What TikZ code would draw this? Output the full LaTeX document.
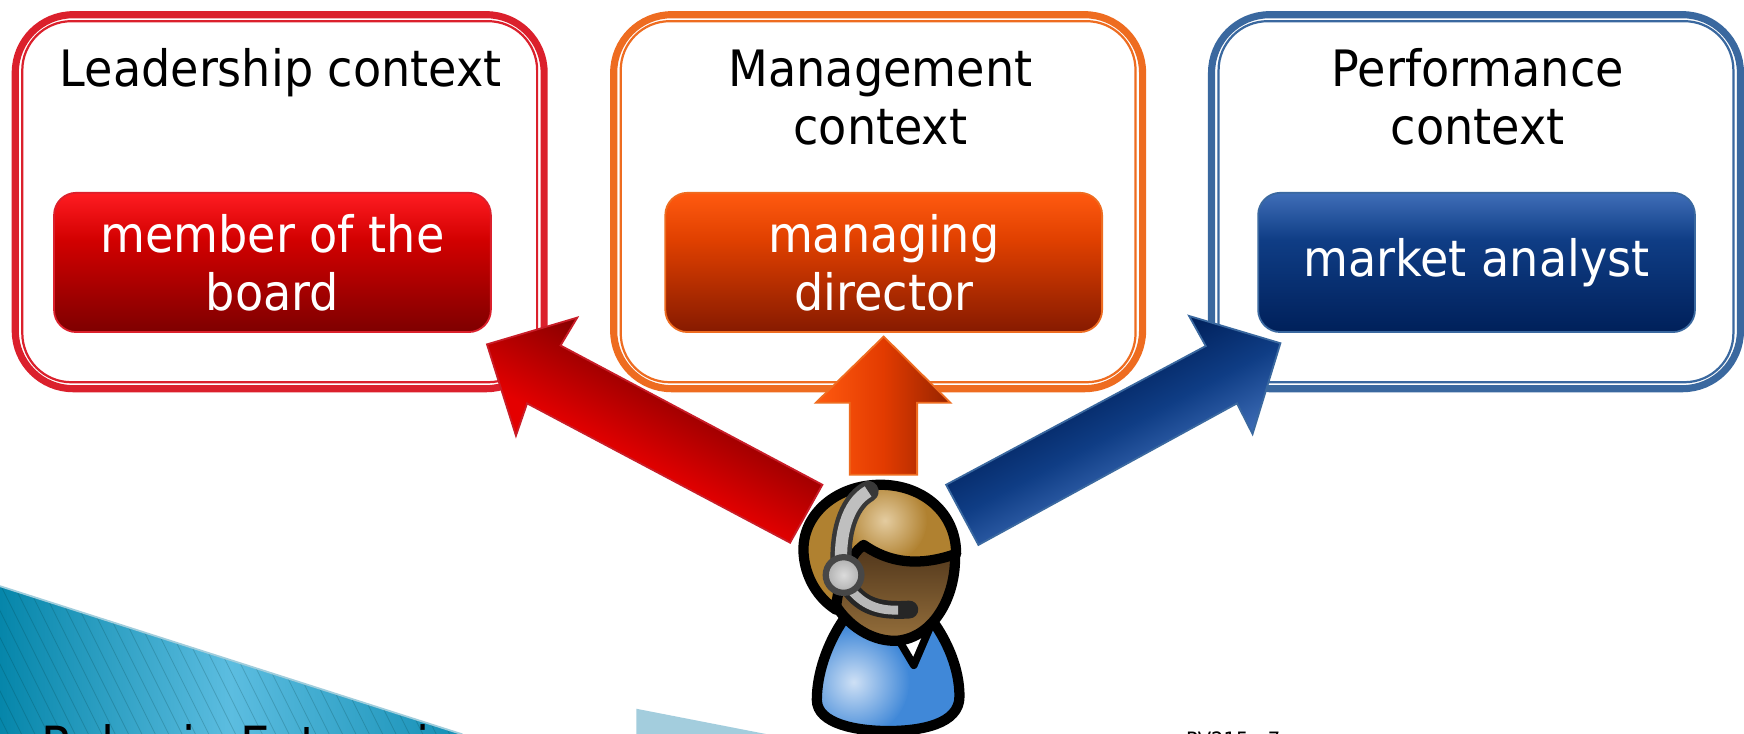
\documentclass[tikz,border=0pt]{standalone}
\usepackage{fontspec}
\setmainfont{DejaVu Sans}[FakeStretch=0.92]
\definecolor{rA}{HTML}{FF1C22}\definecolor{rB}{HTML}{D20000}\definecolor{rC}{HTML}{7E0000}
\definecolor{oA}{HTML}{FF5A10}\definecolor{oB}{HTML}{E04000}\definecolor{oC}{HTML}{861A00}
\definecolor{bA}{HTML}{3F6EB8}\definecolor{bB}{HTML}{0F3D85}\definecolor{bC}{HTML}{00205A}
\definecolor{rE}{HTML}{DB202C}\definecolor{oE}{HTML}{EE6C20}\definecolor{bE}{HTML}{3A689F}
\definecolor{arrR}{HTML}{E40000}\definecolor{arrRd}{HTML}{860000}
\definecolor{arrO}{HTML}{962400}
\definecolor{skinB}{RGB}{64,136,216}\definecolor{skinBl}{RGB}{206,224,245}
\definecolor{hairC}{RGB}{176,129,48}\definecolor{hairL}{RGB}{228,204,160}
\definecolor{triD}{RGB}{6,134,170}\definecolor{triL}{RGB}{92,189,224}\definecolor{triR}{RGB}{20,143,181}
\definecolor{triE}{RGB}{160,205,220}\definecolor{triP}{RGB}{163,205,221}
\definecolor{faceT}{RGB}{78,52,26}\definecolor{faceB}{RGB}{150,112,60}
\pgfdeclareverticalshading{redv}{100bp}{color(0bp)=(rC);color(25bp)=(rC);color(58bp)=(rB);color(75bp)=(rA);color(100bp)=(rA)}
\pgfdeclareverticalshading{orangev}{100bp}{color(0bp)=(oC);color(25bp)=(oC);color(58bp)=(oB);color(75bp)=(oA);color(100bp)=(oA)}
\pgfdeclareverticalshading{bluev}{100bp}{color(0bp)=(bC);color(25bp)=(bC);color(58bp)=(bB);color(75bp)=(bA);color(100bp)=(bA)}
\tikzset{
  frameout/.style={rectangle,rounded corners=26pt,line width=3.2pt,minimum width=237.3pt,minimum height=167.8pt,inner sep=0pt},
  framein/.style={rectangle,rounded corners=22pt,line width=1pt,minimum width=231pt,minimum height=162pt,inner sep=0pt},
  rolebox/.style={rectangle,rounded corners=10pt,line width=.8pt,minimum width=196pt,minimum height=62.5pt,inner sep=0pt,
    text=white,align=center,font=\fontsize{22.5}{26}\selectfont,shade},
  ctitle/.style={align=center,font=\fontsize{22.5}{26}\selectfont,text=black,inner sep=0pt,anchor=base},
  blockarrow/.style={line width=.8pt,line join=miter},
  outl/.style={draw=black,line width=4.6pt,line join=round},
  stripe/.style={draw=black!60!teal,opacity=.2,line width=.35pt}
}
\begin{document}
\begin{tikzpicture}[x=0.5pt,y=-0.5pt]
\path[use as bounding box,clip] (0,0) rectangle (1565,658.6);
\fill[white] (0,0) rectangle (1565,658.6);

% decoration triangles
\begin{scope}
  \clip (0,526) -- (415,659) -- (0,659) -- cycle;
  \shade[left color=triD,right color=triR,middle color=triL] (0,526) rectangle (415,659);
  \foreach \k in {-10,...,36} \draw[stripe] (\k*12,500) -- ++(90,180);
\end{scope}
\draw[line width=.8pt,color=triE] (0,526) -- (415,659);
\fill[color=triP] (571,636) -- (689,659) -- (571,659) -- cycle;

\node[anchor=base west,inner sep=0pt,font=\fontsize{23}{26}\selectfont] (footer) at (37,685) {Roles in Enterprise};
\node[anchor=base west,inner sep=0pt,font=\fontsize{9.5}{11}\selectfont] (pageno) at (1064,671) {PV215 - 7};

% context frames
\node[frameout,draw=rE] (ctxL) at (251,181) {};
\node[framein,draw=rE] (ctxLi) at (251,181) {};
\node[frameout,draw=oE] (ctxM) at (788,181) {};
\node[framein,draw=oE] (ctxMi) at (788,181) {};
\node[frameout,draw=bE] (ctxP) at (1324.5,181) {};
\node[framein,draw=bE] (ctxPi) at (1324.5,181) {};

\node[ctitle] (tL) at (252,78) {Leadership context};
\node[ctitle] (tM1) at (790,78) {Management};
\node[ctitle] (tM2) at (790,130) {context};
\node[ctitle] (tP1) at (1326,78) {Performance};
\node[ctitle] (tP2) at (1326,130) {context};

\node[rolebox,shading=redv,draw=rE] (rL) at (244.5,235.5) {member of the\\board};
\node[rolebox,shading=orangev,draw=oE] (rM) at (793,235.5) {managing\\director};
\node[rolebox,shading=bluev,draw=bE] (rP) at (1325,235.5) {market analyst};

% block arrows
\def\redarrow{(437,309) -- (518,285) -- (503,310) -- (738,435) -- (709,487) -- (473,362) -- (463,391) -- cycle}
\def\bluearrow{(1149,308) -- (1067,283.5) -- (1082,310.5) -- (849,435) -- (878,489) -- (1110,362) -- (1124,389.5) -- cycle}
\fill[arrR] \redarrow;
\begin{scope}
  \clip \redarrow;
  \shade[transform canvas={rotate around={-28:(600,398)}},top color=arrRd,bottom color=arrR]
    (300,338) rectangle (900,428);
\end{scope}
\draw[blockarrow,draw=rE!92!black] \redarrow;
\path[blockarrow,draw=oE,left color=oA,right color=arrO,middle color=oB!92!red]
  (793,302) -- (853,361.5) -- (823,361.5) -- (823,426) -- (762.5,426) -- (762.5,361.5) -- (732,361.5) -- cycle;
\fill[bA] \bluearrow;
\begin{scope}
  \clip \bluearrow;
  \shade[transform canvas={rotate around={28:(980,399)}},top color=bC,bottom color=bA,middle color=bB]
    (680,339) rectangle (1280,459);
\end{scope}
\draw[blockarrow,draw=bE] \bluearrow;

% person: body
\def\bodypath{(757,556) .. controls (742,578) and (733,605) .. (733,628) .. controls (733,650) and (770,656) .. (797,656) .. controls (826,656) and (861,650) .. (861,625) .. controls (861,600) and (850,575) .. (836,556) -- cycle}
\fill[skinB] \bodypath;
\begin{scope}
  \clip \bodypath;
  \shade[inner color=skinBl,outer color=skinB] (766,612) circle (50);
\end{scope}
\draw[outl] \bodypath;
\path[fill=white,draw=black,line width=3.4pt,line join=round] (798,560) -- (820,597) -- (838,555);

% person: face
\path[outl,top color=faceT,bottom color=faceB]
  (745,535) .. controls (760,564) and (785,576) .. (805,575) .. controls (838,572) and (858,535) .. (857,498) -- (772,488) -- cycle;
% person: hair
\def\hairpath{(750,547) .. controls (730,534) and (721,512) .. (721,493) .. controls (721,460) and (752,435) .. (790,435) .. controls (828,435) and (858,460) .. (858,497) .. controls (835,505) and (805,510) .. (775,489) .. controls (760,500) and (752,525) .. (750,547) -- cycle}
\fill[hairC] \hairpath;
\begin{scope}
  \clip \hairpath;
  \shade[inner color=hairL,outer color=hairC] (794,467) circle (38);
\end{scope}
\draw[outl] \hairpath;

% person: headset
\def\bandpath{(779,441) .. controls (760,452) and (753,480) .. (755,510)}
\draw[color=black!78,line width=9.5pt,line cap=round] \bandpath;
\draw[color=black!25,line width=5.5pt,line cap=butt] \bandpath;
\draw[color=black!85,line width=8pt,line cap=round] (760,525) .. controls (772,542) and (785,549) .. (816,547);
\draw[color=black!28,line width=4pt,line cap=butt] (760,525) .. controls (772,541) and (785,548) .. (806,547.5);
\path[draw=black!72,line width=2.8pt,inner color=black!14,outer color=black!32] (757,516) circle (16);
\end{tikzpicture}
\end{document}
